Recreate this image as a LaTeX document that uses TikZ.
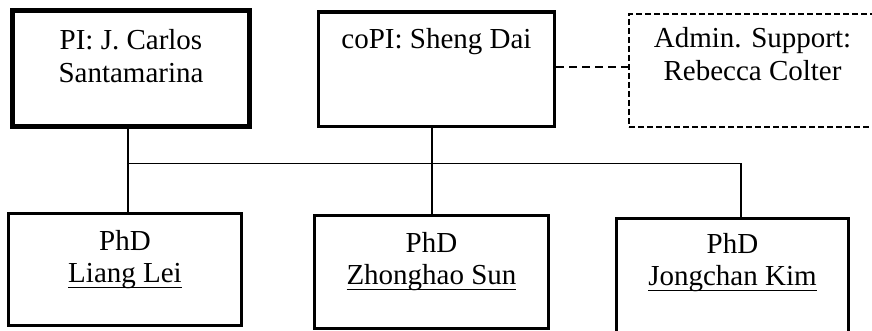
\documentclass[tikz,border=0pt]{standalone}
\usepackage{fontspec}
\setmainfont{Liberation Serif}
\newcommand\myul[1]{\setbox0\hbox{#1}\rlap{\rule[-5.2pt]{\wd0}{1.5pt}}\box0}
\begin{document}
\begin{tikzpicture}[x=1pt,y=-1pt,
  boxbase/.style={rectangle, draw=black, fill=white, inner sep=0pt},
  pibox/.style={boxbase, line width=5pt, minimum width=237pt, minimum height=116pt},
  copibox/.style={boxbase, line width=3.2pt, minimum width=236pt, minimum height=114.5pt},
  adminbox/.style={boxbase, line width=2.3pt, dash pattern=on 6pt off 3pt, minimum width=247pt, minimum height=113pt},
  phdbox/.style={boxbase, line width=3pt},
  txt/.style={anchor=north, inner sep=0pt, align=center, font=\fontsize{29}{32.5}\selectfont},
  thin/.style={line width=1.3pt},
  dashlink/.style={line width=2.3pt, dash pattern=on 8pt off 5pt}]
\useasboundingbox (0,0) rectangle (872,331);
% top boxes
\node[pibox] (pi) at (131,68.5) {};
\node[copibox] (copi) at (436.5,69.25) {};
\node[adminbox] (admin) at (752.5,70.5) {};
% bottom boxes
\node[phdbox, minimum width=233pt, minimum height=112pt] (liang) at (125,269.5) {};
\node[phdbox, minimum width=234pt, minimum height=113pt] (zhong) at (431.5,272) {};
\node[phdbox, minimum width=232pt, minimum height=118pt] (jong) at (732.5,277.5) {};
% texts
\node[txt] (tpi) at ([yshift=-21.5pt]pi.north) {PI: J. Carlos\\Santamarina};
\node[txt] (tcopi) at ([yshift=-18pt]copi.north) {coPI: Sheng Dai};
\node[txt] (tadmin) at ([yshift=-14.5pt]admin.north) {Admin. Support:\\Rebecca Colter};
\node[txt] (tliang) at ([yshift=-18pt]liang.north) {PhD\\\myul{Liang Lei}};
\node[txt] (tzhong) at ([yshift=-18pt]zhong.north) {PhD\\\myul{Zhonghao Sun}};
\node[txt] (tjong) at ([yshift=-16pt]jong.north) {PhD\\\myul{Jongchan Kim}};
% connectors
\coordinate (hl) at (128,163.5);
\coordinate (hr) at (741,163.5);
\draw[thin] ([xshift=-3pt]pi.south) -- ([xshift=3pt]liang.north);
\draw[thin] (hl) -- (hr);
\draw[thin] ([xshift=-4.5pt]copi.south) -- ([xshift=0.5pt]zhong.north);
\draw[thin] (hr) -- ([xshift=8.5pt]jong.north);
\draw[dashlink] (copi.east |- 0,67) -- (admin.west |- 0,67);
\end{tikzpicture}
\end{document}
